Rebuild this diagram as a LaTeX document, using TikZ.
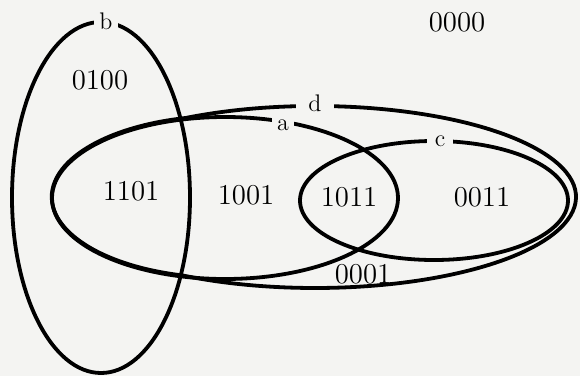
\documentclass[tikz,border=0pt]{standalone}
\definecolor{paper}{RGB}{244,244,242}
\tikzset{setline/.style={line width=1.9pt}}
\tikzset{setname/.style={fill=paper,inner sep=2.5pt,font=\large}}
\tikzset{region/.style={font=\Large}}

\begin{document}
\begin{tikzpicture}[x=0.5pt,y=0.5pt]
\fill[paper] (0,0) rectangle (580,-376);
\useasboundingbox (0,0) rectangle (580,-376);
% the four sets
\draw[setline] (101,-197.5) ellipse [x radius=89, y radius=175.5];
\draw[setline] (225,-198) ellipse [x radius=173, y radius=81];
\draw[setline] (434,-200.5) ellipse [x radius=134, y radius=59.5];
% d runs along the left arc of a
\draw[setline] (315,-197) +(120.4:261 and 91)
  arc [start angle=120.4, end angle=-120.4, x radius=261, y radius=91]
  arc [start angle=-104, end angle=-256, x radius=173, y radius=81] -- cycle;
%
\node (b) [setname] at (106,-21) {b};
\node (a) [setname] at (283,-125) {a};
\node (c) [setname,inner xsep=4pt] at (440,-141) {c};
\node (d) [setname,inner xsep=6pt] at (315,-103) {d};
% regions
\node (r0000) [region] at (457,-22) {0000};
\node (r0100) [region] at (100,-80) {0100};
\node (r1101) [region] at (131,-191) {1101};
\node (r1001) [region] at (246,-195) {1001};
\node (r1011) [region] at (349,-197) {1011};
\node (r0011) [region] at (482,-197) {0011};
\node (r0001) [region] at (363,-274) {0001};
\end{tikzpicture}
\end{document}
